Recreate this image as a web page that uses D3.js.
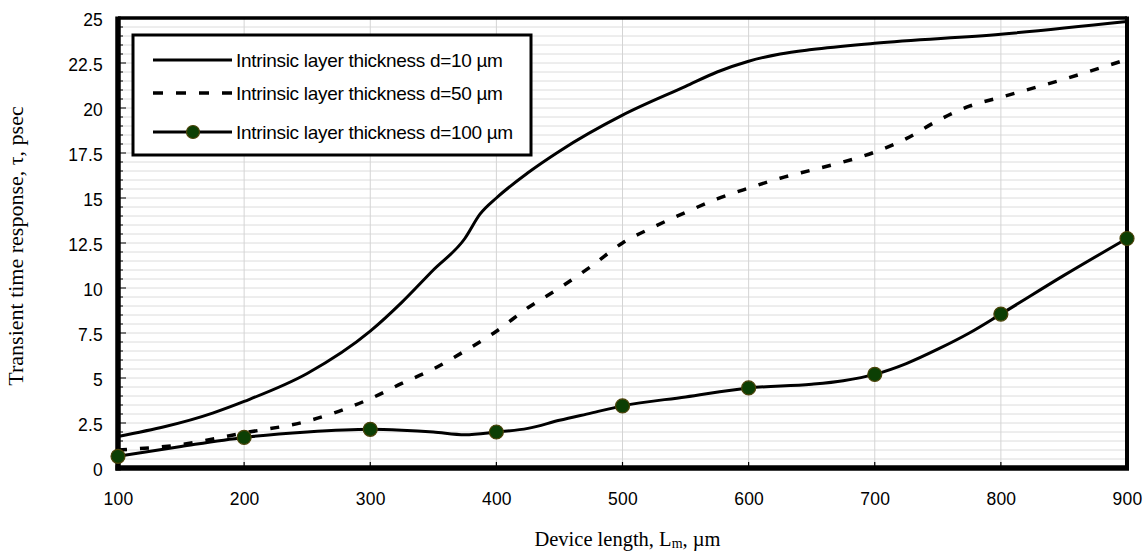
<!DOCTYPE html>
<html>
<head>
<meta charset="utf-8">
<script src="https://cdn.jsdelivr.net/npm/d3@7"></script>
<style>
    body { margin: 0; background: #fff; }
    svg { display: block; }
</style>
</head>
<body>
<div id="chart"></div>
<script>

// Series (device length in um, transient time in psec)
let lengthD10 = [100, 175, 200, 250, 300, 325, 350, 375, 387, 400, 425, 450, 500, 550, 575, 600, 625, 650, 700, 800, 900];
let tauD10    = [1.75, 3.05, 3.7, 5.25, 7.6, 9.2, 11.0, 12.75, 14.1, 15.0, 16.4, 17.6, 19.6, 21.2, 22.0, 22.6, 23.0, 23.25, 23.6, 24.1, 24.8];

let lengthD50 = [100, 150, 200, 250, 275, 300, 325, 350, 375, 400, 425, 450, 475, 500, 525, 550, 575, 600, 625, 650, 675, 700, 725, 750, 775, 800, 850, 900];
let tauD50    = [1.0, 1.3, 1.95, 2.6, 3.15, 3.85, 4.7, 5.5, 6.5, 7.6, 8.9, 10.0, 11.2, 12.5, 13.4, 14.2, 14.95, 15.55, 16.1, 16.55, 17.0, 17.55, 18.3, 19.3, 20.1, 20.6, 21.6, 22.7];

let lengthD100 = [100, 150, 200, 250, 300, 325, 350, 375, 400, 425, 450, 475, 500, 550, 600, 650, 675, 700, 725, 750, 775, 800, 850, 900];
let tauD100    = [0.65, 1.2, 1.7, 2.0, 2.15, 2.1, 2.0, 1.85, 2.0, 2.2, 2.65, 3.05, 3.45, 3.95, 4.45, 4.65, 4.85, 5.2, 5.8, 6.6, 7.5, 8.55, 10.7, 12.75];

let xTicks = [100, 200, 300, 400, 500, 600, 700, 800, 900];
let yTicks = [0, 2.5, 5, 7.5, 10, 12.5, 15, 17.5, 20, 22.5, 25];

let seriesNames = [
    "Intrinsic layer thickness d=10 \u00b5m",
    "Intrinsic layer thickness d=50 \u00b5m",
    "Intrinsic layer thickness d=100 \u00b5m"
];

let width = 1146,
    height = 552,
    margin = {top: 18, right: 19, bottom: 84, left: 118};

let innerW = width - margin.left - margin.right,
    innerH = height - margin.top - margin.bottom;

let svg = d3.select("#chart").append("svg")
    .attr("width", width)
    .attr("height", height);

let g = svg.append("g")
    .attr("transform", "translate(" + margin.left + "," + margin.top + ")");

let x = d3.scaleLinear().domain([100, 900]).range([0, innerW]);
let y = d3.scaleLinear().domain([0, 25]).range([innerH, 0]);

// grid
let minorY = d3.range(0.5, 25, 0.5);
g.append("g").selectAll("line")
    .data(minorY)
    .enter().append("line")
    .attr("x1", 0).attr("x2", innerW)
    .attr("y1", d => y(d)).attr("y2", d => y(d))
    .attr("stroke", "#dcdcdc")
    .attr("stroke-width", 1);

g.append("g").selectAll("line")
    .data(xTicks.slice(1, -1))
    .enter().append("line")
    .attr("x1", d => x(d)).attr("x2", d => x(d))
    .attr("y1", 0).attr("y2", innerH)
    .attr("stroke", "#d4d4d4")
    .attr("stroke-width", 1);

// small inner ticks on the left axis
g.append("g").selectAll("line")
    .data(minorY)
    .enter().append("line")
    .attr("x1", 0).attr("x2", d => (d % 2.5 === 0) ? 8 : 5)
    .attr("y1", d => y(d)).attr("y2", d => y(d))
    .attr("stroke", "#000")
    .attr("stroke-width", 1);

// bottom inner ticks
g.append("g").selectAll("line")
    .data(xTicks.slice(1, -1))
    .enter().append("line")
    .attr("x1", d => x(d)).attr("x2", d => x(d))
    .attr("y1", innerH).attr("y2", innerH - 6)
    .attr("stroke", "#000")
    .attr("stroke-width", 1.2);

// frame
g.append("line").attr("x1", 0).attr("x2", innerW).attr("y1", 0).attr("y2", 0)
    .attr("stroke", "#000").attr("stroke-width", 3.5);
g.append("line").attr("x1", innerW).attr("x2", innerW).attr("y1", -1.5).attr("y2", innerH)
    .attr("stroke", "#000").attr("stroke-width", 4);
g.append("line").attr("x1", 0).attr("x2", 0).attr("y1", -1.5).attr("y2", innerH + 2.5)
    .attr("stroke", "#000").attr("stroke-width", 5.5);
g.append("line").attr("x1", -2.5).attr("x2", innerW + 2).attr("y1", innerH).attr("y2", innerH)
    .attr("stroke", "#000").attr("stroke-width", 5.5);

// axes labels via d3 axes (no domain / ticks drawn, just text)
let xAxis = d3.axisBottom(x).tickValues(xTicks).tickSize(0).tickPadding(25);
let yAxis = d3.axisLeft(y).tickValues(yTicks).tickSize(0).tickPadding(15)
    .tickFormat(d => String(d));

let xg = g.append("g")
    .attr("transform", "translate(0," + innerH + ")")
    .call(xAxis);
let yg = g.append("g").call(yAxis);

[xg, yg].forEach(ax => {
    ax.select(".domain").remove();
    ax.selectAll("text")
        .style("font-family", "'Liberation Sans', Arial, sans-serif")
        .style("font-size", "17.5px")
        .style("letter-spacing", "0.2px")
        .attr("fill", "#000");
});
yg.selectAll("text").attr("dy", "0.45em");

// lines
let line = d3.line()
    .x(d => x(d[0]))
    .y(d => y(d[1]))
    .curve(d3.curveMonotoneX);

let d10 = d3.zip(lengthD10, tauD10);
let d50 = d3.zip(lengthD50, tauD50);
let d100 = d3.zip(lengthD100, tauD100);

g.append("path")
    .datum(d10)
    .attr("d", line)
    .attr("fill", "none")
    .attr("stroke", "#000")
    .attr("stroke-width", 3);

g.append("path")
    .datum(d50)
    .attr("d", line)
    .attr("fill", "none")
    .attr("stroke", "#000")
    .attr("stroke-width", 3.5)
    .attr("stroke-dasharray", "9,13");

g.append("path")
    .datum(d100)
    .attr("d", line)
    .attr("fill", "none")
    .attr("stroke", "#000")
    .attr("stroke-width", 3);

// markers only on the hundreds
g.append("g").selectAll("circle")
    .data(d100.filter(d => d[0] % 100 === 0))
    .enter().append("circle")
    .attr("cx", d => x(d[0]))
    .attr("cy", d => y(d[1]))
    .attr("r", 7)
    .attr("fill", "#0c3f04")
    .attr("stroke", "#4a4208")
    .attr("stroke-width", 1.2);

// Legend
let legend = svg.append("g").attr("transform", "translate(133,35)");

legend.append("rect")
    .attr("width", 398)
    .attr("height", 120)
    .attr("fill", "#fff")
    .attr("stroke", "#000")
    .attr("stroke-width", 3);

let rowY = [25, 58, 97];

seriesNames.forEach((name, i) => {
    let row = legend.append("g").attr("transform", "translate(0," + rowY[i] + ")");

    let sample = row.append("line")
        .attr("x1", 20).attr("x2", 99)
        .attr("y1", 0).attr("y2", 0)
        .attr("stroke", "#000")
        .attr("stroke-width", i === 1 ? 3.5 : 3);
    if (i === 1) sample.attr("stroke-dasharray", "10,13");

    if (i === 2) {
        row.append("circle")
            .attr("cx", 60).attr("cy", 0).attr("r", 6.5)
            .attr("fill", "#0c3f04")
            .attr("stroke", "#4a4208")
            .attr("stroke-width", 1.2);
    }

    row.append("text")
        .attr("x", 103)
        .attr("y", 0)
        .attr("dy", "0.36em")
        .style("font-family", "'Liberation Sans', Arial, sans-serif")
        .style("font-size", "19px")
        .style("letter-spacing", "-0.3px")
        .text(name);
});

// axis titles
svg.append("text")
    .attr("transform", "translate(23,246) rotate(-90)")
    .attr("text-anchor", "middle")
    .style("font-family", "'Liberation Serif', 'Times New Roman', serif")
    .style("font-size", "22px")
    .text("Transient time response, \u03c4, psec");

let xTitle = svg.append("text")
    .attr("x", margin.left + innerW / 2 + 5)
    .attr("y", 546)
    .attr("text-anchor", "middle")
    .style("font-family", "'Liberation Serif', 'Times New Roman', serif")
    .style("font-size", "20.5px");
xTitle.append("tspan").text("Device length, L");
xTitle.append("tspan").attr("font-size", "14px").attr("dy", 2).text("m");
xTitle.append("tspan").attr("dy", -2).text(", \u00b5m");

</script>
</body>
</html>
